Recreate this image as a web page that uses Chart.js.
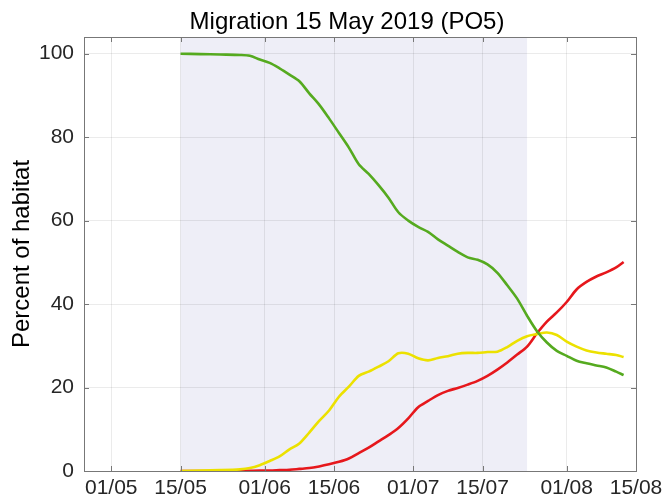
<!DOCTYPE html>
<html>
<head>
<meta charset="utf-8">
<script src="https://cdn.jsdelivr.net/npm/chart.js@4"></script>
<style>
  html, body { margin: 0; padding: 0; background: #fff; }
  #wrap { width: 663px; height: 499px; }
</style>
</head>
<body>
<div id="wrap"><canvas id="chart" width="663" height="499"></canvas></div>
<script>
// days counted from 01/05/2019
const days = [14, 18, 22, 26, 28, 30, 32, 34, 36, 38, 40, 42, 44, 46, 48, 50, 52, 54, 56, 58, 60,
  62, 64, 66, 68, 70, 72, 74, 76, 78, 80, 82, 84, 86, 88, 90, 92, 94, 96, 98, 100, 102, 103.5];

const greenValues = [100, 99.9, 99.8, 99.7, 99.5, 98.6, 97.8, 96.5, 95, 93.4, 90.5, 87.8, 84.5, 81, 77.5, 73.5, 71.2, 68.5, 65.5, 62, 60,
  58.5, 57.3, 55.5, 54, 52.5, 51.2, 50.6, 49.5, 47.5, 44.5, 41.3, 37.2, 33.5, 30.8, 28.8, 27.6, 26.4, 25.8, 25.3, 24.8, 23.8, 23];

const yellowValues = [0, 0.1, 0.2, 0.4, 0.7, 1.4, 2.4, 3.5, 5.2, 6.6, 9.2, 12, 14.5, 17.8, 20.2, 22.8, 23.8, 25, 26.3, 28.2, 28.1,
  27, 26.5, 27.1, 27.5, 28.1, 28.3, 28.3, 28.5, 28.6, 29.7, 31.2, 32.3, 32.8, 33.2, 32.6, 31, 29.8, 28.9, 28.4, 28.1, 27.8, 27.3];

const redValues = [0, 0, 0, 0, 0.05, 0.1, 0.1, 0.2, 0.3, 0.5, 0.7, 1.1, 1.6, 2.2, 3, 4.3, 5.6, 7.1, 8.6, 10.3, 12.6,
  15.3, 16.8, 18.2, 19.2, 19.9, 20.7, 21.6, 22.8, 24.3, 26, 27.9, 29.8, 33, 35.8, 38, 40.5, 43.5, 45.3, 46.6, 47.6, 48.8, 50.1];

const xTickDays = [0, 14, 31, 45, 61, 75, 92, 106];
const xTickLabels = ['01/05', '15/05', '01/06', '15/06', '01/07', '15/07', '01/08', '15/08'];
const yTicks = [0, 20, 40, 60, 80, 100];
const shadeRange = [14, 84];
const chartTitle = 'Migration 15 May 2019 (PO5)';

const fontFamily = "'Liberation Sans', Arial, Helvetica, sans-serif";

function pts(vals) {
  return days.map((d, i) => ({ x: d, y: vals[i] }));
}

const shadePlugin = {
  id: 'shade',
  beforeDraw(chart) {
    const { ctx, chartArea, scales } = chart;
    const x0 = scales.x.getPixelForValue(shadeRange[0]);
    const x1 = scales.x.getPixelForValue(shadeRange[1]);
    ctx.save();
    ctx.fillStyle = '#eeeef7';
    ctx.fillRect(x0, chartArea.top, x1 - x0, chartArea.bottom - chartArea.top);
    ctx.restore();
  }
};

// MATLAB-like box with ticks pointing inside, plus the title
const boxPlugin = {
  id: 'box',
  afterDatasetsDraw(chart) {
    const { ctx, chartArea: a, scales } = chart;
    const len = 5;
    ctx.save();
    ctx.strokeStyle = '#777777';
    ctx.lineWidth = 1;
    ctx.beginPath();
    xTickDays.forEach(d => {
      const x = Math.round(scales.x.getPixelForValue(d)) + 0.5;
      ctx.moveTo(x, a.bottom); ctx.lineTo(x, a.bottom - len);
      ctx.moveTo(x, a.top); ctx.lineTo(x, a.top + len);
    });
    yTicks.forEach(v => {
      const y = Math.round(scales.y.getPixelForValue(v)) + 0.5;
      ctx.moveTo(a.left, y); ctx.lineTo(a.left + len, y);
      ctx.moveTo(a.right, y); ctx.lineTo(a.right - len, y);
    });
    ctx.stroke();
    ctx.strokeRect(Math.round(a.left) + 0.5, Math.round(a.top) + 0.5,
      Math.round(a.right - a.left), Math.round(a.bottom - a.top));

    ctx.fillStyle = '#000';
    ctx.font = '24px ' + fontFamily;
    ctx.textAlign = 'center';
    ctx.textBaseline = 'alphabetic';
    ctx.fillText(chartTitle, (a.left + a.right) / 2 - 13, 29);
    ctx.restore();
  }
};

const data = {
  datasets: [
    { label: 'green', data: pts(greenValues), borderColor: '#55aa1f' },
    { label: 'yellow', data: pts(yellowValues), borderColor: '#ece100' },
    { label: 'red', data: pts(redValues), borderColor: '#e6171c' }
  ].map(ds => Object.assign(ds, {
    borderWidth: 2.6,
    pointRadius: 0,
    tension: 0.3,
    fill: false
  }))
};

const config = {
  type: 'line',
  data,
  options: {
    responsive: false,
    animation: false,
    layout: { padding: { left: 0, right: 27, top: 37, bottom: 0 } },
    plugins: {
      legend: { display: false },
      tooltip: { enabled: false },
      title: { display: false }
    },
    scales: {
      x: {
        type: 'linear',
        min: -5.5,
        max: 106,
        afterBuildTicks: s => { s.ticks = xTickDays.map(v => ({ value: v })); },
        afterFit: s => { s.height = 28; s.paddingLeft = 0; s.paddingRight = 0; },
        grid: { color: 'rgba(0,0,0,0.08)', drawTicks: false },
        border: { display: false },
        ticks: {
          color: '#262626',
          padding: 5,
          maxRotation: 0,
          autoSkip: false,
          font: { family: fontFamily, size: 21 },
          callback: v => xTickLabels[xTickDays.indexOf(v)]
        }
      },
      y: {
        min: 0,
        max: 104,
        afterBuildTicks: s => { s.ticks = yTicks.map(v => ({ value: v })); },
        afterFit: s => { s.width = 84; s.paddingTop = 0; s.paddingBottom = 0; },
        grid: { color: 'rgba(0,0,0,0.08)', drawTicks: false },
        border: { display: false },
        ticks: {
          color: '#262626',
          padding: 10,
          font: { family: fontFamily, size: 21 }
        },
        title: {
          display: true,
          text: 'Percent of habitat',
          color: '#000',
          font: { family: fontFamily, size: 24, lineHeight: 1.2 },
          padding: { top: 8, bottom: 0 }
        }
      }
    }
  },
  plugins: [shadePlugin, boxPlugin]
};

var myChart = new Chart(document.getElementById('chart'), config);
</script>
</body>
</html>
